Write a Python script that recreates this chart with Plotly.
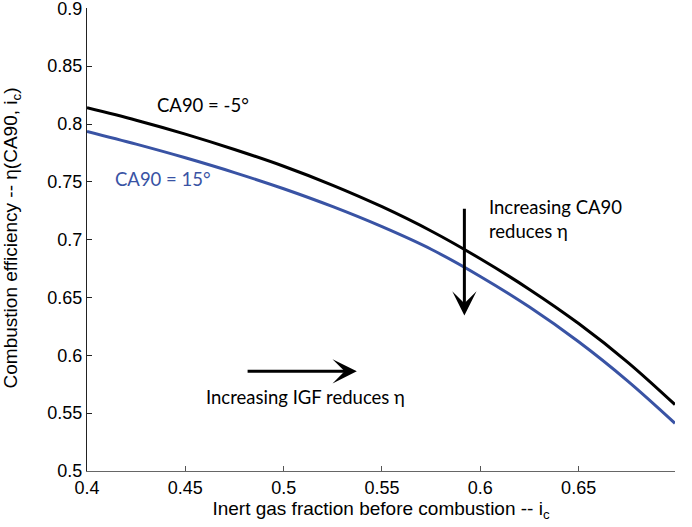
import plotly.graph_objects as go

# Data
ic = [0.400, 0.425, 0.450, 0.475, 0.500, 0.525, 0.550, 0.575, 0.600, 0.625, 0.650, 0.675, 0.699]
eta_ca90_m5 = [0.8140, 0.8033, 0.7913, 0.7780, 0.7635, 0.7470, 0.7285, 0.7075, 0.6835, 0.6570, 0.6275, 0.5940, 0.5574]
eta_ca90_15 = [0.7936, 0.7826, 0.7708, 0.7580, 0.7440, 0.7285, 0.7112, 0.6917, 0.6682, 0.6417, 0.6117, 0.5777, 0.5412]

x_ticks = [0.4, 0.45, 0.5, 0.55, 0.6, 0.65]
x_tick_labels = ["0.4", "0.45", "0.5", "0.55", "0.6", "0.65"]
y_ticks = [0.5, 0.55, 0.6, 0.65, 0.7, 0.75, 0.8, 0.85, 0.9]
y_tick_labels = ["0.5", "0.55", "0.6", "0.65", "0.7", "0.75", "0.8", "0.85", "0.9"]

BLACK = "#000000"
BLUE = "#3953A4"
ann_font = "Lato, 'Open Sans', sans-serif"
axis_font = "'Liberation Sans', Arial, sans-serif"
ANN_SIZE = 18.5

fig = go.Figure()
fig.add_trace(go.Scatter(x=ic, y=eta_ca90_m5, mode="lines", line=dict(color=BLACK, width=3, shape="spline"),
                         name="CA90 = -5°", showlegend=False))
fig.add_trace(go.Scatter(x=ic, y=eta_ca90_15, mode="lines", line=dict(color=BLUE, width=3, shape="spline"),
                         name="CA90 = 15°", showlegend=False))

annotations = [
    dict(x=0.4589, y=0.8161, text="CA90 = -5°", showarrow=False, font=dict(family=ann_font, size=ANN_SIZE, color=BLACK)),
    dict(x=0.4384, y=0.7522, text="CA90 = 15°", showarrow=False, font=dict(family=ann_font, size=ANN_SIZE, color=BLUE)),
    dict(x=0.6035, y=0.7183, text="Increasing CA90<br>reduces η", showarrow=False, xanchor="left", align="left",
         font=dict(family=ann_font, size=ANN_SIZE, color=BLACK)),
    dict(x=0.5111, y=0.5644, text="Increasing IGF reduces η", showarrow=False,
         font=dict(family=ann_font, size=ANN_SIZE, color=BLACK)),
    # vertical arrow
    dict(x=0.5919, y=0.6344, ax=0.5919, ay=0.7281, axref="x", ayref="y", text="", showarrow=True,
         arrowhead=3, arrowsize=1.35, arrowwidth=3, arrowcolor=BLACK, standoff=0, startstandoff=0),
    # horizontal arrow
    dict(x=0.5372, y=0.5862, ax=0.4809, ay=0.5862, axref="x", ayref="y", text="", showarrow=True,
         arrowhead=3, arrowsize=1.35, arrowwidth=3, arrowcolor=BLACK, standoff=0, startstandoff=0),
    # y-axis title
    dict(xref="paper", yref="paper", x=-0.127, y=0.503, xanchor="center", yanchor="middle",
         textangle=-90, showarrow=False,
         text="Combustion efficiency -- η(CA90, i<sub>c</sub>)",
         font=dict(family=axis_font, size=19, color=BLACK)),
]

fig.update_layout(
    width=692, height=527,
    margin=dict(l=87, r=17, t=8, b=56),
    paper_bgcolor="white", plot_bgcolor="white",
    font=dict(family=axis_font, size=18, color="black"),
    annotations=annotations,
    xaxis=dict(range=[0.4, 0.699], tickvals=x_ticks, ticktext=x_tick_labels, ticks="inside", ticklen=5,
               tickcolor="#555", showline=True, linecolor="#666", linewidth=1, showgrid=False, zeroline=False,
               mirror=False, tickfont=dict(size=18), ticklabeloverflow="allow", automargin=False,
               title=dict(text="Inert gas fraction before combustion -- i<sub>c</sub>", font=dict(size=19), standoff=0)),
    yaxis=dict(range=[0.5, 0.9003], tickvals=y_ticks, ticktext=y_tick_labels, ticks="inside", ticklen=5,
               tickcolor="#222", showline=True, linecolor="#222", linewidth=1, showgrid=False, zeroline=False,
               mirror=False, tickfont=dict(size=18), ticklabeloverflow="allow", automargin=False),
)

fig.write_html("out.html")
